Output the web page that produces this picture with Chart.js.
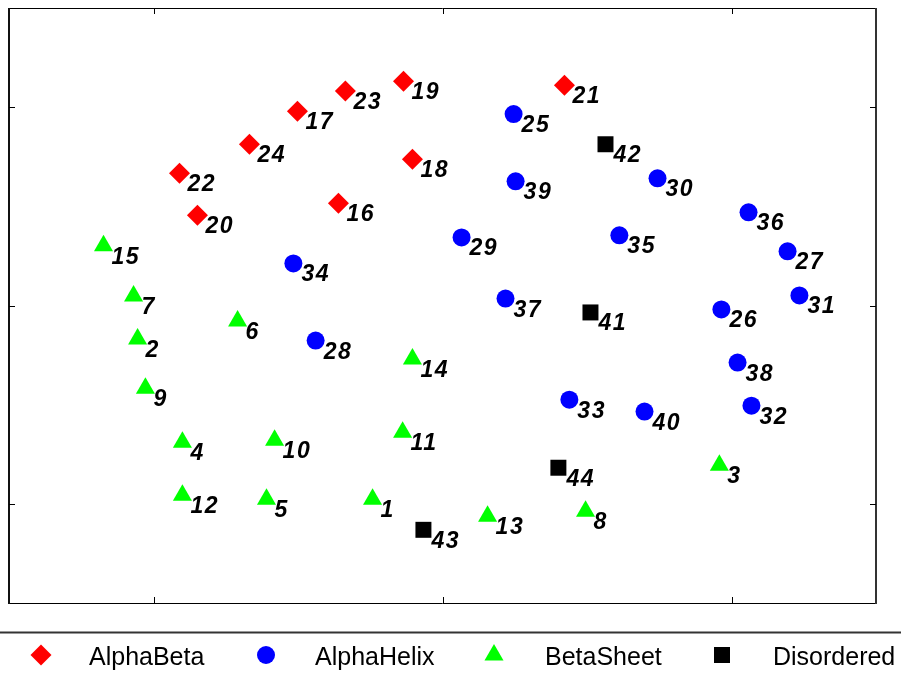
<!DOCTYPE html>
<html>
<head>
<meta charset="utf-8">
<script src="https://cdn.jsdelivr.net/npm/chart.js@4/dist/chart.umd.min.js"></script>
<style>
  body { margin: 0; background: #fff; }
</style>
</head>
<body>
<canvas id="scatterChart" width="901" height="679"></canvas>
<script>
// Point ids and coordinates, one group per class
const alphaBetaIds = [19, 23, 17, 24, 22, 20, 16, 18, 21];
const alphaBetaX = [0.865, 0.664, 0.498, 0.332, 0.090, 0.152, 0.640, 0.896, 1.422];
const alphaBetaY = [2.131, 2.081, 1.980, 1.813, 1.667, 1.455, 1.515, 1.737, 2.111];

const alphaHelixIds = [25, 39, 30, 36, 27, 31, 26, 38, 32, 40, 33, 35, 29, 37, 34, 28];
const alphaHelixX = [1.246, 1.253, 1.744, 2.059, 2.194, 2.235, 1.965, 2.021, 2.069, 1.699, 1.439, 1.612, 1.066, 1.218, 0.484, 0.561];
const alphaHelixY = [1.965, 1.626, 1.641, 1.470, 1.273, 1.051, 0.980, 0.712, 0.495, 0.465, 0.525, 1.354, 1.343, 1.035, 1.212, 0.823];

const betaSheetIds = [15, 7, 2, 6, 9, 4, 10, 12, 5, 1, 11, 14, 13, 8, 3];
const betaSheetX = [-0.173, -0.069, -0.055, 0.291, -0.028, 0.100, 0.419, 0.100, 0.391, 0.758, 0.862, 0.896, 1.156, 1.495, 1.958];
const betaSheetY = [1.301, 1.048, 0.831, 0.922, 0.583, 0.311, 0.321, 0.043, 0.023, 0.023, 0.361, 0.730, -0.063, -0.038, 0.194];

const disorderedIds = [42, 41, 44, 43];
const disorderedX = [1.564, 1.512, 1.401, 0.934];
const disorderedY = [1.813, 0.965, 0.182, -0.131];

const xTicks = [0, 1, 2];
const yTicks = [0, 1, 2];

function toPoints(xs, ys) {
  return xs.map((x, i) => ({ x: x, y: ys[i] }));
}

function makeSet(label, ids, xs, ys, color, style, radius) {
  return {
    label: label,
    ids: ids,
    data: toPoints(xs, ys),
    pointStyle: style,
    pointRadius: radius,
    pointHoverRadius: radius,
    backgroundColor: color,
    borderColor: color,
    pointBorderWidth: 0
  };
}

// Frame, inward ticks and the legend under the plot
const frameAndLegend = {
  id: 'frameAndLegend',
  afterDraw(chart) {
    const ctx = chart.ctx;
    const a = chart.chartArea;
    const xs = chart.scales.x;
    const ys = chart.scales.y;
    ctx.save();

    ctx.strokeStyle = '#000';
    ctx.lineWidth = 1;
    ctx.beginPath();
    ctx.moveTo(a.left, a.top + 0.5);
    ctx.lineTo(a.right, a.top + 0.5);
    ctx.moveTo(a.left, a.bottom + 0.5);
    ctx.lineTo(a.right, a.bottom + 0.5);
    ctx.stroke();

    ctx.lineWidth = 2;
    ctx.strokeStyle = '#111';
    ctx.beginPath();
    ctx.moveTo(a.left, a.top);
    ctx.lineTo(a.left, a.bottom + 1);
    ctx.stroke();
    ctx.strokeStyle = '#333';
    ctx.beginPath();
    ctx.moveTo(a.right, a.top);
    ctx.lineTo(a.right, a.bottom + 1);
    ctx.stroke();

    // inward ticks
    ctx.lineWidth = 1;
    ctx.strokeStyle = '#000';
    ctx.beginPath();
    xTicks.forEach(v => {
      const px = Math.round(xs.getPixelForValue(v)) + 0.5;
      ctx.moveTo(px, a.top);
      ctx.lineTo(px, a.top + 6);
      ctx.moveTo(px, a.bottom);
      ctx.lineTo(px, a.bottom - 6);
    });
    yTicks.forEach(v => {
      const py = Math.round(ys.getPixelForValue(v)) + 0.5;
      ctx.moveTo(a.left, py);
      ctx.lineTo(a.left + 6, py);
      ctx.moveTo(a.right, py);
      ctx.lineTo(a.right - 6, py);
    });
    ctx.stroke();

    // legend separator
    ctx.lineWidth = 2;
    ctx.strokeStyle = '#333';
    ctx.beginPath();
    ctx.moveTo(0, 632.5);
    ctx.lineTo(chart.width, 632.5);
    ctx.stroke();

    // legend entries
    const markerX = [41, 266, 494, 722];
    const textX = [89, 315, 545, 773];
    ctx.font = '25px "Liberation Sans", Arial, sans-serif';
    ctx.textBaseline = 'alphabetic';
    chart.data.datasets.forEach((ds, i) => {
      ctx.fillStyle = ds.backgroundColor;
      Chart.helpers.drawPoint(ctx, {
        pointStyle: ds.pointStyle,
        radius: ds.pointRadius,
        rotation: 0,
        borderWidth: 0
      }, markerX[i], 655);
      ctx.fillStyle = '#000';
      ctx.fillText(ds.label, textX[i], 665);
    });
    ctx.restore();
  }
};

// Number next to every point
const pointLabels = {
  id: 'pointLabels',
  afterDatasetsDraw(chart) {
    const ctx = chart.ctx;
    ctx.save();
    ctx.font = 'italic bold 23px "Liberation Sans", Arial, sans-serif';
    ctx.letterSpacing = '1.5px';
    ctx.fillStyle = '#000';
    ctx.textBaseline = 'alphabetic';
    chart.data.datasets.forEach((ds, i) => {
      chart.getDatasetMeta(i).data.forEach((pt, j) => {
        ctx.fillText(String(ds.ids[j]), pt.x + 8, pt.y + 18);
      });
    });
    ctx.restore();
  }
};

const ctx = document.getElementById('scatterChart').getContext('2d');
new Chart(ctx, {
  type: 'scatter',
  data: {
    datasets: [
      makeSet('AlphaBeta', alphaBetaIds, alphaBetaX, alphaBetaY, '#ff0000', 'rectRot', 10.5),
      makeSet('AlphaHelix', alphaHelixIds, alphaHelixX, alphaHelixY, '#0000ff', 'circle', 9),
      makeSet('BetaSheet', betaSheetIds, betaSheetX, betaSheetY, '#00ff00', 'triangle', 11),
      makeSet('Disordered', disorderedIds, disorderedX, disorderedY, '#000000', 'rect', 11.3)
    ]
  },
  options: {
    responsive: false,
    animation: false,
    layout: {
      autoPadding: false,
      padding: { left: 9, right: 25, top: 8, bottom: 76 }
    },
    plugins: {
      legend: { display: false },
      tooltip: { enabled: false }
    },
    scales: {
      x: { type: 'linear', min: -0.5, max: 2.5, display: false },
      y: { type: 'linear', min: -0.5, max: 2.5, display: false }
    }
  },
  plugins: [pointLabels, frameAndLegend]
});
</script>
</body>
</html>
